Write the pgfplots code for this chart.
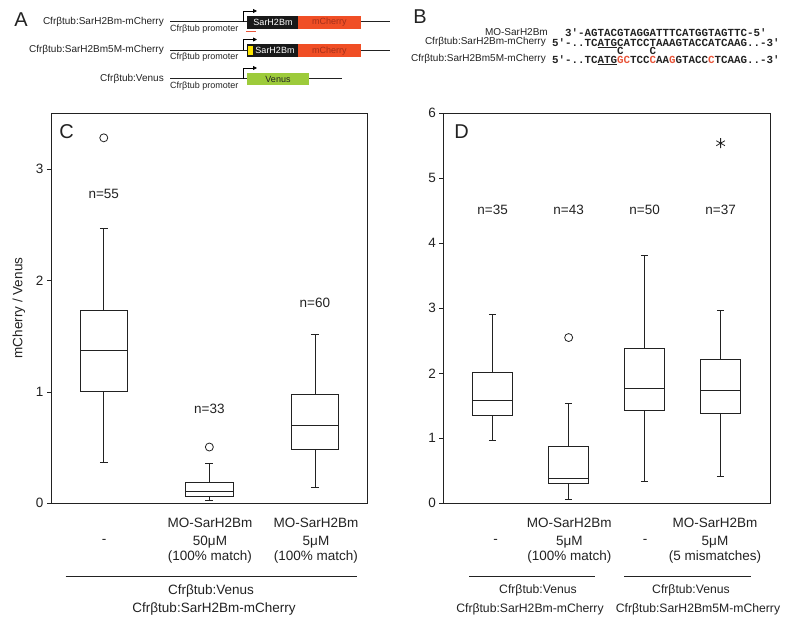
\documentclass[border=0pt]{standalone}
\usepackage{fontspec}
\setmainfont{Liberation Sans}
\setmonofont{Liberation Mono}
\usepackage{pgfplots}
\pgfplotsset{compat=1.18}
\usepgfplotslibrary{statistics}
\usetikzlibrary{arrows.meta}
\definecolor{txt}{HTML}{222222}
\definecolor{cherry}{HTML}{F04E25}
\definecolor{cherrytxt}{HTML}{A3301A}
\definecolor{venus}{HTML}{9DCB3B}
\definecolor{yel}{HTML}{FFE600}
\definecolor{seqred}{HTML}{E8553A}
\newcommand{\fs}[1]{\fontsize{#1bp}{#1bp}\selectfont}
\newcommand{\R}[1]{\textcolor{seqred}{#1}}
\pgfplotsset{
  panel/.style={
    scale only axis, height=390bp, anchor=south west,
    ymin=0, axis line style={draw=txt, line width=0.8bp},
    xtick=\empty, ytick pos=left, tick align=outside, major tick length=4bp,
    tick style={draw=txt, line width=0.7bp},
    ticklabel style={font=\fs{13.5}, text=txt},
    /pgf/number format/assume math mode=true,
    clip=false,
    boxplot/draw direction=y,
  },
  bx/.style={draw=txt, line width=0.8bp, solid, mark=o, mark size=4bp,
    mark options={line width=0.8bp, draw=txt}},
}
\begin{document}
\begin{tikzpicture}
\path[use as bounding box] (0,0) rectangle (800bp,-622bp);

% ---------------- Panel C ----------------
\begin{axis}[panel, at={(51bp,-503.3bp)}, width=316.7bp,
  xmin=0.5, xmax=3.5, ymax=3.5, ytick={0,1,2,3}]
\addplot[bx, boxplot prepared={draw position=1, median=1.37, upper quartile=1.73,
  lower quartile=1.0, upper whisker=2.47, lower whisker=0.37,
  box extend=0.45, whisker extend=0.075}] coordinates {(1,3.28)};
\addplot[bx, boxplot prepared={draw position=2, median=0.105, upper quartile=0.19,
  lower quartile=0.066, upper whisker=0.36, lower whisker=0.024,
  box extend=0.45, whisker extend=0.075}] coordinates {(2,0.505)};
\addplot[bx, boxplot prepared={draw position=3, median=0.70, upper quartile=0.98,
  lower quartile=0.48, upper whisker=1.52, lower whisker=0.144,
  box extend=0.45, whisker extend=0.075}] coordinates {};
\node[font=\fs{13.5}, text=txt] at (axis cs:1,2.78) {n=55};
\node[font=\fs{13.5}, text=txt] at (axis cs:2,0.85) {n=33};
\node[font=\fs{13.5}, text=txt] at (axis cs:3,1.80) {n=60};
\end{axis}

% ---------------- Panel D ----------------
\begin{axis}[panel, at={(443.3bp,-503.3bp)}, width=326.7bp,
  xmin=0.35, xmax=4.65, ymax=6, ytick={0,1,2,3,4,5,6}]
\addplot[bx, boxplot prepared={draw position=1, median=1.59, upper quartile=2.01,
  lower quartile=1.35, upper whisker=2.91, lower whisker=0.97,
  box extend=0.53, whisker extend=0.1}] coordinates {};
\addplot[bx, boxplot prepared={draw position=2, median=0.39, upper quartile=0.87,
  lower quartile=0.31, upper whisker=1.53, lower whisker=0.056,
  box extend=0.53, whisker extend=0.1}] coordinates {(2,2.55)};
\addplot[bx, boxplot prepared={draw position=3, median=1.77, upper quartile=2.39,
  lower quartile=1.43, upper whisker=3.81, lower whisker=0.33,
  box extend=0.53, whisker extend=0.1}] coordinates {};
\addplot[bx, mark=asterisk, mark size=5bp, boxplot prepared={draw position=4, median=1.73, upper quartile=2.21,
  lower quartile=1.39, upper whisker=2.97, lower whisker=0.41,
  box extend=0.53, whisker extend=0.1}] coordinates {(4,5.54)};
\node[font=\fs{13.5}, text=txt] at (axis cs:1,4.52) {n=35};
\node[font=\fs{13.5}, text=txt] at (axis cs:2,4.52) {n=43};
\node[font=\fs{13.5}, text=txt] at (axis cs:3,4.52) {n=50};
\node[font=\fs{13.5}, text=txt] at (axis cs:4,4.52) {n=37};
\end{axis}

\begin{scope}[x=1bp, y=-1bp, text=txt]
% panel letters
\node[font=\fs{20}] at (21,19.5) {A};
\node[font=\fs{20}] at (420,17) {B};
\node[font=\fs{20}] at (66.7,132) {C};
\node[font=\fs{20}] at (461.7,132) {D};
% y label
\node[font=\fs{13.5}, rotate=90] at (19,308) {mCherry / Venus};

% ---------------- Panel A ----------------
\foreach \yy/\lab/\xe in {21.5/Cfrβtub:SarH2Bm-mCherry/390, 50/Cfrβtub:SarH2Bm5M-mCherry/390, 78.5/Cfrβtub:Venus/341.7}{
  \node[font=\fs{10}, anchor=east, inner sep=0] at (164,\yy) {\lab};
  \draw[txt, line width=0.7bp] (170,\yy) -- (\xe,\yy);
  \node[font=\fs{9}, anchor=west, inner sep=0] at (170,\yy+7.5) {Cfrβtub promoter};
}
% row 1
\fill[black!90] (246.7,15.5) rectangle (297.7,28.8);
\fill[cherry] (297.7,15.5) rectangle (361,28.8);
\node[font=\fs{9}, text=white] at (273,22.3) {SarH2Bm};
\node[font=\fs{9}, text=cherrytxt] at (329.3,22.3) {mCherry};
\draw[seqred, line width=0.7bp] (246,31) -- (255.7,31);
% row 2
\fill[black!90] (246.7,44) rectangle (297.7,57.3);
\fill[cherry] (297.7,44) rectangle (361,57.3);
\fill[yel] (248.3,46) rectangle (252.5,55.3);
\node[font=\fs{9}, text=white] at (275,50.8) {SarH2Bm};
\node[font=\fs{9}, text=cherrytxt] at (329.3,50.8) {mCherry};
% row 3
\fill[venus] (246.7,72.5) rectangle (309.3,85.3);
\node[font=\fs{9}] at (278,79.3) {Venus};
% promoter arrows
\foreach \yy in {21.5,50,78.5}{
  \draw[black, line width=0.8bp, -{Triangle[length=4bp,width=4bp]}] (243.3,\yy) -- (243.3,\yy-10.5) -- (257,\yy-10.5);
}

% ---------------- Panel B ----------------
\node[font=\fs{10}, anchor=east, inner sep=0] at (548,32.3) {MO-SarH2Bm};
\node[font=\fs{10}, anchor=east, inner sep=0] at (546,42.3) {Cfrβtub:SarH2Bm-mCherry};
\node[font=\fs{10}, anchor=east, inner sep=0] at (546,59) {Cfrβtub:SarH2Bm5M-mCherry};
\node[font=\ttfamily\bfseries\fs{10.83}, anchor=west, inner sep=0] at (565,32.3) {3'-AGTACGTAGGATTTCATGGTAGTTC-5'};
\node[font=\ttfamily\bfseries\fs{10.83}, anchor=west, inner sep=0] at (552,42.3) {5'-..TCATGCATCCTAAAGTACCATCAAG..-3'};
\node[font=\ttfamily\bfseries\fs{10.83}, inner sep=0] at (620.25,51) {C};
\node[font=\ttfamily\bfseries\fs{10.83}, inner sep=0] at (652.75,51) {C};
\node[font=\ttfamily\bfseries\fs{10.83}, anchor=west, inner sep=0] at (552,59.5) {5'-..TCATG\R{GC}TCC\R{C}AA\R{G}GTACC\R{C}TCAAG..-3'};
\draw[txt, line width=0.7bp] (597.5,47.3) -- (617,47.3);
\draw[txt, line width=0.7bp] (597.5,64.7) -- (617,64.7);

% ---------------- below C ----------------
\begin{scope}[every node/.style={font=\fs{13.5}, text=txt}]
\node at (104,541.7) {-};
\node at (210,523.3) {MO-SarH2Bm};
\node at (210,541.7) {50μM};
\node at (210,557.3) {(100\% match)};
\node at (316,523.3) {MO-SarH2Bm};
\node at (316,541.7) {5μM};
\node at (316,557.3) {(100\% match)};
\node at (211,590.7) {Cfrβtub:Venus};
\node at (214,609.3) {Cfrβtub:SarH2Bm-mCherry};
% below D
\node at (495.7,541.7) {-};
\node at (569.3,523.3) {MO-SarH2Bm};
\node at (569.3,541.7) {5μM};
\node at (569.3,557.3) {(100\% match)};
\node at (645,541.7) {-};
\node at (715,523.3) {MO-SarH2Bm};
\node at (715,541.7) {5μM};
\node at (715,557.3) {(5 mismatches)};
\end{scope}
\draw[txt, line width=0.7bp] (65.7,576) -- (357.3,576);
\draw[txt, line width=0.7bp] (469,576) -- (595,576);
\draw[txt, line width=0.7bp] (624,576) -- (750.7,576);
\begin{scope}[every node/.style={font=\fs{12.2}, text=txt}]
\node at (538,590.7) {Cfrβtub:Venus};
\node at (530,609.3) {Cfrβtub:SarH2Bm-mCherry};
\node at (691,590.7) {Cfrβtub:Venus};
\node at (698,609.3) {Cfrβtub:SarH2Bm5M-mCherry};
\end{scope}
\end{scope}
\end{tikzpicture}
\end{document}
